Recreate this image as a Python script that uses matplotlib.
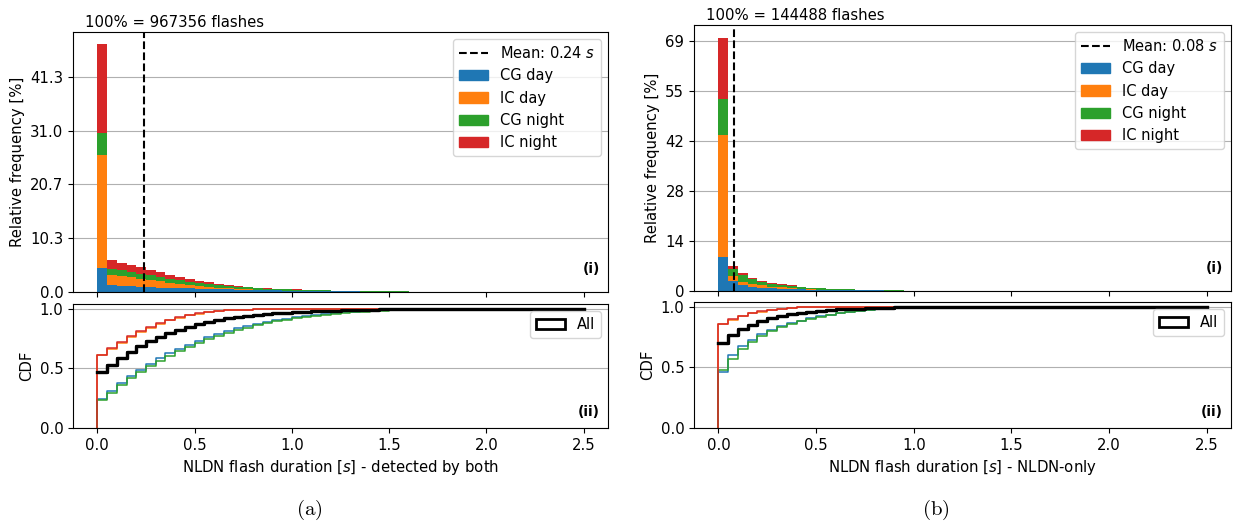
import numpy as np
import matplotlib
matplotlib.use("Agg")
import matplotlib.pyplot as plt
from matplotlib.patches import Patch
from matplotlib.lines import Line2D

# Duration bins: 0 .. 2.5 s in steps of 0.05 s
bin_edges = np.linspace(0.0, 2.5, 51)
categories = ["CG day", "IC day", "CG night", "IC night"]
colors = ["#1f77b4", "#ff7f0e", "#2ca02c", "#d62728"]

# (a) detected by both -- relative frequency [% of all flashes] per bin
both_cg_day = [4.56, 1.33, 1.24, 1.14, 1.05, 0.95, 0.86, 0.80, 0.72, 0.67,
               0.61, 0.57, 0.51, 0.48, 0.42, 0.38, 0.34, 0.30, 0.29, 0.25,
               0.23, 0.19, 0.17, 0.15, 0.13, 0.11, 0.095, 0.076, 0.076, 0.057,
               0.057, 0.038, 0.038, 0.038, 0.019, 0.019, 0.019, 0.0095, 0.0095,
               0.0057, 0.0038, 0.0038, 0.0019, 0.0019, 0.0019]
both_ic_day = [21.7, 1.93, 1.75, 1.65, 1.51, 1.33, 1.16, 0.98, 0.81, 0.67,
               0.53, 0.42, 0.32, 0.21, 0.14, 0.11, 0.07, 0.05, 0.035, 0.028,
               0.018, 0.014, 0.010, 0.007]
both_cg_night = [4.32, 1.20, 1.14, 1.07, 0.99, 0.92, 0.85, 0.77, 0.72, 0.66,
                 0.61, 0.57, 0.52, 0.48, 0.42, 0.39, 0.35, 0.31, 0.29, 0.26,
                 0.22, 0.20, 0.18, 0.17, 0.15, 0.13, 0.11, 0.09, 0.074, 0.074,
                 0.055, 0.055, 0.037, 0.037, 0.037, 0.018, 0.018, 0.018, 0.009,
                 0.009, 0.0055, 0.0037, 0.0037, 0.0018, 0.0018]
both_ic_night = [17.0, 1.60, 1.44, 1.32, 1.19, 1.05, 0.91, 0.75, 0.61, 0.50,
                 0.39, 0.30, 0.22, 0.17, 0.11, 0.08, 0.055, 0.04, 0.028, 0.022,
                 0.014, 0.008, 0.006]

# (b) NLDN-only -- relative frequency [% of all flashes] per bin
only_cg_day = [9.29, 2.83, 1.52, 1.11, 0.89, 0.73, 0.61, 0.53, 0.44, 0.38,
               0.32, 0.28, 0.24, 0.20, 0.18, 0.16, 0.14, 0.10, 0.08, 0.06,
               0.04, 0.04, 0.02, 0.02, 0.01, 0.008, 0.005, 0.003, 0.002]
only_ic_day = [33.9, 1.42, 1.10, 0.87, 0.63, 0.51, 0.39, 0.28, 0.16, 0.08,
               0.04, 0.024, 0.016, 0.008, 0.004]
only_cg_night = [10.0, 1.89, 1.75, 1.32, 1.03, 0.82, 0.68, 0.57, 0.48, 0.42,
                 0.36, 0.32, 0.27, 0.23, 0.19, 0.17, 0.13, 0.11, 0.08, 0.06,
                 0.04, 0.03, 0.02, 0.01, 0.008, 0.005, 0.003, 0.002]
only_ic_night = [16.9, 0.71, 0.55, 0.43, 0.31, 0.25, 0.20, 0.14, 0.06, 0.04,
                 0.02, 0.01, 0.005]

panels = [
    dict(series=[both_cg_day, both_ic_day, both_cg_night, both_ic_night],
         n_flashes=967356, mean=0.24,
         yticks=[0.0, 10.33, 20.67, 31.0, 41.33], yfmt="{:.1f}",
         xlabel="NLDN flash duration [$s$] - detected by both", caption="(a)"),
    dict(series=[only_cg_day, only_ic_day, only_cg_night, only_ic_night],
         n_flashes=144488, mean=0.08,
         yticks=[0.0, 13.84, 27.68, 41.52, 55.36, 69.2], yfmt="{:.0f}",
         xlabel="NLDN flash duration [$s$] - NLDN-only", caption="(b)"),
]

plt.rcParams["font.size"] = 10.7
fig = plt.figure(figsize=(12.34, 5.26), dpi=100)

axes_boxes = [
    ([0.0592, 0.4449, 0.4335, 0.4943], [0.0592, 0.1863, 0.4335, 0.2357]),
    ([0.5624, 0.4468, 0.4352, 0.5057], [0.5624, 0.1863, 0.4352, 0.2395]),
]
caption_x = [0.251, 0.758]

nb = len(bin_edges) - 1
width = np.diff(bin_edges)
grid_kw = dict(color="#b0b0b0", linewidth=0.8)

for p, (top_box, bot_box), cx in zip(panels, axes_boxes, caption_x):
    vals = [np.pad(np.asarray(s, float), (0, nb - len(s))) for s in p["series"]]

    ax = fig.add_axes(top_box)
    bot = fig.add_axes(bot_box, sharex=ax)

    # stacked histogram
    base = np.zeros(nb)
    for v, c, lab in zip(vals, colors, categories):
        ax.bar(bin_edges[:-1], v, width=width, bottom=base, align="edge",
               color=c, linewidth=0, label=lab)
        base = base + v
    ax.axvline(p["mean"], color="black", linestyle="--", linewidth=1.5)
    ax.set_axisbelow(True)
    ax.yaxis.grid(True, **grid_kw)
    ax.set_yticks(p["yticks"])
    ax.set_yticklabels([p["yfmt"].format(t) for t in p["yticks"]])
    ax.set_ylabel("Relative frequency [%]")
    ax.tick_params(axis="x", labelbottom=False)
    ax.text(0.022, 1.008, f"100% = {p['n_flashes']} flashes",
            transform=ax.transAxes, ha="left", va="bottom")
    ax.text(0.985, 0.06, "(i)", transform=ax.transAxes, ha="right",
            va="bottom", fontweight="bold", fontsize=10)
    handles = [Line2D([], [], color="black", linestyle="--", linewidth=1.5)]
    handles += [Patch(color=c) for c in colors]
    labels = [f"Mean: {p['mean']:.2f} $s$"] + categories
    ax.legend(handles, labels, loc="upper right", fontsize=10.5)

    # cumulative distributions
    tot = np.sum(vals, axis=0)
    cdf_all = np.cumsum(tot) / tot.sum()
    bot.step(bin_edges, np.r_[cdf_all, cdf_all[-1]], where="post",
             color="black", linewidth=2.3, zorder=1)
    for v, c in zip(vals, colors):
        cdf = np.cumsum(v) / v.sum()
        bot.step(np.r_[bin_edges[0], bin_edges], np.r_[0.0, cdf, cdf[-1]],
                 where="post", color=c, linewidth=1.1, zorder=2)
    bot.step(bin_edges, np.r_[cdf_all, cdf_all[-1]], where="post",
             color="black", linewidth=2.3, zorder=3)
    bot.set_ylim(0, 1.04)
    bot.set_yticks([0.0, 0.5, 1.0])
    bot.set_axisbelow(True)
    bot.yaxis.grid(True, **grid_kw)
    bot.set_ylabel("CDF")
    bot.set_xlabel(p["xlabel"])
    bot.set_xlim(-0.125, 2.625)
    bot.set_xticks([0.0, 0.5, 1.0, 1.5, 2.0, 2.5])
    bot.text(0.985, 0.07, "(ii)", transform=bot.transAxes, ha="right",
             va="bottom", fontweight="bold", fontsize=10)
    bot.legend([Patch(facecolor="white", edgecolor="black", linewidth=2)],
               ["All"], loc="upper right", fontsize=10.5)

    fig.text(cx, 0.03, r"$\mathrm{" + p["caption"] + "}$", ha="center",
             va="center", fontsize=15, math_fontfamily="cm")

fig.savefig("out.png", dpi=100)
